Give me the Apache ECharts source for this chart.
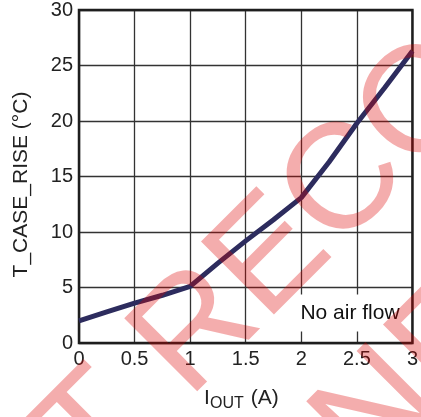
<!DOCTYPE html>
<html><head><meta charset="utf-8">
<script src="https://cdn.jsdelivr.net/npm/echarts@6/dist/echarts.min.js"></script>
<style>html,body{margin:0;padding:0;background:#fff}#c{width:421px;height:417px}</style>
</head><body><div id="c"></div>
<script>
var currentA = [0, 0.25, 0.5, 0.75, 1, 1.25, 1.5, 1.75, 2, 2.25, 2.5, 2.75, 3];
var caseRise = [2.0, 2.8, 3.6, 4.3, 5.1, 7.2, 9.2, 11.1, 13.1, 16.3, 19.8, 23.0, 26.3];
var yTicks = {min: 0, max: 30, interval: 5};
var xTicks = {min: 0, max: 3, interval: 0.5};
var xNameMain = 'I';
var xNameSub = 'OUT';
var xNameUnit = ' (A)';
var yName = 'T_CASE_RISE (°C)';
var note = 'No air flow';
var watermarkLine1 = 'NOT RECOMMENDED';
var watermarkLine2 = 'FOR NEW DESIGNS';

var chart = echarts.init(document.getElementById('c'));
var font = '"Liberation Sans", Arial, sans-serif';
var wmStyle = {font: '150px ' + font, fill: 'rgba(220,0,0,0.32)', textAlign: 'left', textVerticalAlign: 'middle'};
chart.setOption({
  animation: false,
  grid: {left: 79, right: 6, top: 8, bottom: 74, show: true, borderColor: '#1e1e1e', borderWidth: 2.5, z: 3},
  xAxis: {
    type: 'value', min: xTicks.min, max: xTicks.max, interval: xTicks.interval,
    axisLine: {show: false}, axisTick: {show: false},
    splitLine: {lineStyle: {color: '#333', width: 1.3}},
    axisLabel: {color: '#222', fontFamily: font, fontSize: 20, margin: 6, showMaxLabel: true, showMinLabel: true}
  },
  yAxis: {
    type: 'value', min: yTicks.min, max: yTicks.max, interval: yTicks.interval,
    axisLine: {show: false}, axisTick: {show: false},
    splitLine: {lineStyle: {color: '#333', width: 1.3}},
    axisLabel: {color: '#222', fontFamily: font, fontSize: 20, margin: 6},
    name: yName, nameLocation: 'middle', nameGap: 47,
    nameTextStyle: {fontFamily: font, fontSize: 21, color: '#222', padding: [0, 0, 0, -16]}
  },
  series: [{
    type: 'line', data: currentA.map(function (x, i) { return [x, caseRise[i]]; }),
    showSymbol: false, lineStyle: {color: '#2d2c5e', width: 5}, z: 5
  }],
  graphic: [
    {type: 'text', x: 204, y: 398, z: 10,
     style: {text: xNameMain, font: '21px ' + font, fill: '#222', textAlign: 'left', textVerticalAlign: 'middle'}},
    {type: 'text', x: 210, y: 403.5, z: 10,
     style: {text: xNameSub, font: '16px ' + font, fill: '#222', textAlign: 'left', textVerticalAlign: 'middle'}},
    {type: 'text', x: 245, y: 398, z: 10,
     style: {text: xNameUnit, font: '21px ' + font, fill: '#222', textAlign: 'left', textVerticalAlign: 'middle'}},
    {type: 'text', x: 350, y: 313, z: 10,
     style: {text: note, font: '21px ' + font, fill: '#111', textAlign: 'center', textVerticalAlign: 'middle',
             backgroundColor: '#fff', padding: [8, 4, 8, 4]}},
    {type: 'text', x: -94, y: 624, rotation: Math.PI / 4, z: 100, silent: true,
     style: Object.assign({text: watermarkLine1}, wmStyle)},
    {type: 'text', x: 88, y: 707, rotation: Math.PI / 4, z: 100, silent: true,
     style: Object.assign({text: watermarkLine2}, wmStyle)}
  ]
});
</script></body></html>
